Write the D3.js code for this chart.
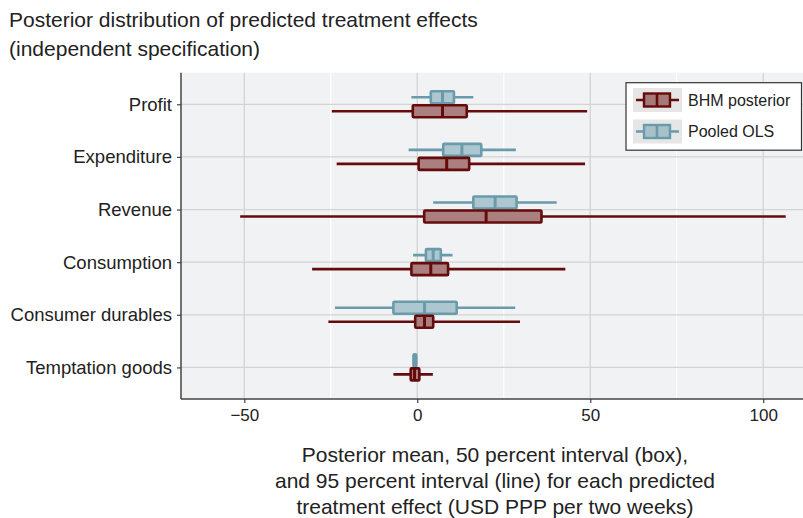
<!DOCTYPE html>
<html><head><meta charset="utf-8">
<script src="https://cdn.jsdelivr.net/npm/d3@7/dist/d3.min.js"></script>
<style>body{margin:0;background:#fff;} text{font-family:"Liberation Sans",Arial,Helvetica,sans-serif;fill:#222;}</style>
</head><body>
<svg id="c" width="803" height="518"></svg>
<script>
const categories = ["Profit","Expenditure","Revenue","Consumption","Consumer durables","Temptation goods"];
const series = ["BHM posterior","Pooled OLS"];
// [lo95, lo50, mean, hi50, hi95]
const bhm = [
  [-24.7, -1.3, 7.3, 14.3, 49.1],
  [-23.3, 0.4, 8.5, 15.0, 48.5],
  [-51.2, 2.0, 19.9, 35.9, 106.5],
  [-30.4, -1.7, 3.9, 8.9, 42.8],
  [-25.7, -0.6, 2.1, 4.6, 29.7],
  [-6.9, -1.9, -0.8, 0.6, 4.5]
];
const ols = [
  [-1.7, 3.9, 7.3, 10.6, 16.2],
  [-2.5, 7.5, 12.9, 18.5, 28.5],
  [4.6, 16.2, 22.5, 28.7, 40.3],
  [-1.2, 2.5, 4.6, 6.8, 10.2],
  [-23.8, -6.9, 2.1, 11.4, 28.3],
  [-1.2, -1.1, -0.7, -0.3, -0.2]
];
const xTicks = [-50, 0, 50, 100];
const xMinor = [-25, 25, 75];
const titleLines = ["Posterior distribution of predicted treatment effects", "(independent specification)"];
const xTitleLines = ["Posterior mean, 50 percent interval (box),", "and 95 percent interval (line) for each predicted", "treatment effect (USD PPP per two weeks)"];

const colors = {"BHM posterior": {stroke:"#660b0b", fill:"rgba(102,11,11,0.5)"},
                "Pooled OLS": {stroke:"#6a9bab", fill:"rgba(106,155,171,0.5)"}};

const svg = d3.select("#c");
const L = 181, R = 803, T = 72.7, B = 399;
const x = d3.scaleLinear().domain([-68.3, 111.5]).range([L, R]);
const y = d3.scalePoint().domain(categories).range([T, B]).padding(0.6);
const offs = d3.scalePoint().domain(["Pooled OLS","BHM posterior"]).range([-7, 7]);

svg.append("rect").attr("x", L).attr("y", T).attr("width", R-L).attr("height", B-T).attr("fill", "#f1f2f4");

// minor grid
svg.append("g").selectAll("line").data(xMinor).join("line")
  .attr("x1", d=>x(d)).attr("x2", d=>x(d)).attr("y1", T).attr("y2", B)
  .attr("stroke", "#ffffff").attr("stroke-width", 1.1);
// major grid
svg.append("g").selectAll("line").data(xTicks).join("line")
  .attr("x1", d=>x(d)).attr("x2", d=>x(d)).attr("y1", T).attr("y2", B)
  .attr("stroke", "#d3d3d5").attr("stroke-width", 1.3);
svg.append("g").selectAll("line").data(categories).join("line")
  .attr("x1", L).attr("x2", R).attr("y1", d=>y(d)).attr("y2", d=>y(d))
  .attr("stroke", "#d3d3d5").attr("stroke-width", 1.3);

// axes
const xAxis = svg.append("g").attr("transform", `translate(0,${B})`)
  .call(d3.axisBottom(x).tickValues(xTicks).tickSize(4).tickPadding(6).tickFormat(d => d < 0 ? "\u2212" + Math.abs(d) : d));
xAxis.select(".domain").remove();
xAxis.selectAll("line").attr("stroke", "#444").attr("stroke-width", 1.2);
xAxis.selectAll("text").attr("font-size", 17).attr("fill", "#222").attr("font-family", "Liberation Sans, Arial, sans-serif");
svg.append("line").attr("x1", L).attr("x2", R).attr("y1", B).attr("y2", B).attr("stroke", "#444").attr("stroke-width", 1.5);

const yAxis = svg.append("g").attr("transform", `translate(${L},0)`)
  .call(d3.axisLeft(y).tickSize(4).tickPadding(5));
yAxis.select(".domain").remove();
yAxis.selectAll("line").attr("stroke", "#444").attr("stroke-width", 1.2);
yAxis.selectAll("text").attr("font-size", 18.5).attr("fill", "#222").attr("font-family", "Liberation Sans, Arial, sans-serif");
svg.append("line").attr("x1", L).attr("x2", L).attr("y1", T).attr("y2", B).attr("stroke", "#444").attr("stroke-width", 1.5);

// boxes
const bh = 12;
function drawSeries(name, data) {
  const c = colors[name];
  const g = svg.append("g");
  categories.forEach((cat, i) => {
    const d = data[i];
    const cy = y(cat) + offs(name);
    g.append("line").attr("x1", x(d[0])).attr("x2", x(d[4])).attr("y1", cy).attr("y2", cy)
      .attr("stroke", c.stroke).attr("stroke-width", 2.6);
    g.append("rect").attr("x", x(d[1])).attr("y", cy - bh/2).attr("width", x(d[3]) - x(d[1])).attr("height", bh)
      .attr("fill", "#f1f2f4");
    g.append("rect").attr("x", x(d[1])).attr("y", cy - bh/2).attr("width", x(d[3]) - x(d[1])).attr("height", bh)
      .attr("fill", c.fill).attr("stroke", c.stroke).attr("stroke-width", 2.6).attr("rx", 1);
    g.append("line").attr("x1", x(d[2])).attr("x2", x(d[2])).attr("y1", cy - bh/2).attr("y2", cy + bh/2)
      .attr("stroke", c.stroke).attr("stroke-width", 3);
  });
}
drawSeries("Pooled OLS", ols);
drawSeries("BHM posterior", bhm);

// legend
const lg = svg.append("g");
lg.append("rect").attr("x", 626).attr("y", 82.7).attr("width", 175.5).attr("height", 67.5)
  .attr("fill", "#fff").attr("stroke", "#333").attr("stroke-width", 1.2);
series.forEach((s, i) => {
  const c = colors[s];
  const ky = 100 + i * 31.5;
  lg.append("rect").attr("x", 633).attr("y", ky - 12).attr("width", 49).attr("height", 24).attr("fill", "#e6e6e6");
  lg.append("line").attr("x1", 636).attr("x2", 679).attr("y1", ky).attr("y2", ky).attr("stroke", c.stroke).attr("stroke-width", 2.4);
  lg.append("rect").attr("x", 644).attr("y", ky - 6.5).attr("width", 26).attr("height", 13).attr("fill", "#e6e6e6");
  lg.append("rect").attr("x", 644).attr("y", ky - 6.5).attr("width", 26).attr("height", 13)
    .attr("fill", c.fill).attr("stroke", c.stroke).attr("stroke-width", 2.4);
  lg.append("line").attr("x1", 657).attr("x2", 657).attr("y1", ky - 6.5).attr("y2", ky + 6.5).attr("stroke", c.stroke).attr("stroke-width", 2.6);
  lg.append("text").attr("x", 688).attr("y", ky + 5.5).attr("font-size", 16).text(s);
});

// title
svg.append("g").selectAll("text").data(titleLines).join("text")
  .attr("x", 9).attr("y", (d,i) => 27.3 + i * 28.7).attr("font-size", 21).text(d => d);

// x title
svg.append("g").selectAll("text").data(xTitleLines).join("text")
  .attr("x", 495).attr("y", (d,i) => 461.7 + i * 26.3).attr("text-anchor", "middle").attr("font-size", 21).text(d => d);
</script>
</body></html>
